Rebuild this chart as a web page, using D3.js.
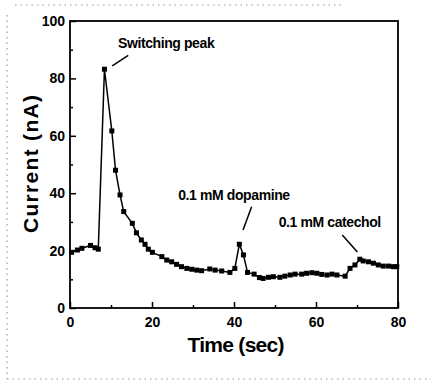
<!DOCTYPE html>
<html>
<head>
<meta charset="utf-8">
<script src="https://cdn.jsdelivr.net/npm/d3@7/dist/d3.min.js"></script>
<style>
  body { margin: 0; background: #fff; }
  svg { display: block; font-family: "Liberation Sans", Arial, sans-serif; }
</style>
</head>
<body>
<div id="chart"></div>
<script>
(function(){
  // time (sec) and current (nA)
  const time = [0.4, 1.8, 2.9, 5.0, 6.1, 6.9, 8.4, 10.2, 11.1, 12.2, 13.1, 15.2, 16.2, 17.4, 18.3, 19.1,
    20.1, 22.4, 23.6, 24.8, 26.0, 27.2, 28.5, 29.7, 30.9, 32.1, 34.1, 35.4, 37.0, 39.0, 40.2, 41.3,
    42.3, 43.3, 44.9, 46.2, 47.1, 48.4, 49.6, 51.2, 52.4, 53.7, 54.9, 56.5, 57.7, 59.0, 60.2, 61.4,
    62.7, 63.9, 65.1, 67.1, 68.3, 69.5, 70.7, 71.5, 72.8, 74.0, 75.2, 76.4, 77.7, 78.9, 79.7];
  const current = [19.4, 20.2, 20.8, 21.8, 21.0, 20.5, 83.2, 61.7, 48.0, 39.4, 33.6, 29.5, 26.2, 23.7, 22.2, 20.5,
    19.4, 17.9, 16.7, 16.1, 15.2, 14.4, 13.8, 13.5, 13.2, 13.0, 13.6, 13.2, 12.9, 12.4, 13.8, 22.2,
    18.5, 12.4, 11.8, 10.6, 10.3, 10.7, 10.9, 10.7, 11.1, 11.5, 11.8, 11.8, 12.1, 12.3, 12.1, 11.7,
    11.5, 11.8, 11.5, 11.1, 13.8, 15.0, 17.0, 16.4, 16.1, 15.6, 15.0, 14.6, 14.6, 14.4, 14.4];

  const xTicks = [0, 20, 40, 60, 80];
  const yTicks = [0, 20, 40, 60, 80, 100];
  const xMinorTicks = [10, 30, 50, 70];
  const yMinorTicks = [10, 30, 50, 70, 90];

  // annotation labels and where their leader lines point
  const notes = [
    { label: 'Switching peak', tx: 11.7, ty: 90.5, from: [14.2, 88], to: [10.3, 84.4] },
    { label: '0.1 mM dopamine', tx: 26.4, ty: 37.6, from: [44.3, 35.3], to: [42.2, 27.2] },
    { label: '0.1 mM catechol', tx: 50.9, ty: 28.2, from: [66.4, 25.4], to: [70.1, 19.5] }
  ];

  const width = 431;
  const height = 382;
  const margin = { top: 21, right: 33, bottom: 74, left: 70 };

  const svg = d3.select('#chart')
    .append('svg')
    .attr('width', width)
    .attr('height', height);

  // faint scanned dotted border
  const dots = svg.append('g')
    .attr('stroke', '#999')
    .attr('stroke-width', 1.2)
    .attr('stroke-dasharray', '1.5,4');
  dots.append('line').attr('x1', 15).attr('y1', 5).attr('x2', 345).attr('y2', 5);
  dots.append('line').attr('x1', 7).attr('y1', 15).attr('x2', 7).attr('y2', 379);
  dots.append('line').attr('x1', 7).attr('y1', 379).attr('x2', 431).attr('y2', 379);

  const x = d3.scaleLinear()
    .domain([0, 80])
    .range([margin.left, width - margin.right]);
  const y = d3.scaleLinear()
    .domain([0, 100])
    .range([height - margin.bottom, margin.top]);

  // frame
  svg.append('rect')
    .attr('x', x(0))
    .attr('y', y(100))
    .attr('width', x(80) - x(0))
    .attr('height', y(0) - y(100))
    .attr('fill', 'none')
    .attr('stroke', '#000')
    .attr('stroke-width', 1.8);

  // inward ticks, labels outside
  function styleAxis(g) {
    g.select('.domain').remove();
    g.selectAll('line').attr('stroke', '#000').attr('stroke-width', 1.5);
    g.selectAll('text')
      .attr('fill', '#000')
      .style('font-size', '14px')
      .style('font-weight', 'bold')
      .style('font-family', '"Liberation Sans", Arial, sans-serif');
  }

  svg.append('g')
    .attr('transform', 'translate(0,' + y(0) + ')')
    .call(d3.axisBottom(x).tickValues(xTicks).tickSizeInner(-6).tickSizeOuter(0).tickPadding(9).tickFormat(d3.format('d')))
    .call(styleAxis);
  svg.append('g')
    .attr('transform', 'translate(0,' + y(0) + ')')
    .call(d3.axisBottom(x).tickValues(xMinorTicks).tickSizeInner(-3).tickSizeOuter(0).tickFormat(''))
    .call(styleAxis);
  svg.append('g')
    .attr('transform', 'translate(' + x(0) + ',0)')
    .call(d3.axisLeft(y).tickValues(yTicks).tickSizeInner(-6).tickSizeOuter(0).tickPadding(5).tickFormat(d3.format('d')))
    .call(styleAxis);
  svg.append('g')
    .attr('transform', 'translate(' + x(0) + ',0)')
    .call(d3.axisLeft(y).tickValues(yMinorTicks).tickSizeInner(-3).tickSizeOuter(0).tickFormat(''))
    .call(styleAxis);

  const points = time.map(function(t, i) { return [t, current[i]]; });

  const line = d3.line()
    .x(function(d) { return x(d[0]); })
    .y(function(d) { return y(d[1]); });

  svg.append('path')
    .datum(points)
    .attr('d', line)
    .attr('fill', 'none')
    .attr('stroke', '#000')
    .attr('stroke-width', 1.5);

  const sq = 5;
  svg.selectAll('.pt')
    .data(points)
    .enter().append('rect')
    .attr('class', 'pt')
    .attr('x', function(d) { return x(d[0]) - sq / 2; })
    .attr('y', function(d) { return y(d[1]) - sq / 2; })
    .attr('width', sq)
    .attr('height', sq)
    .attr('fill', '#000');

  // annotations
  const ann = svg.selectAll('.note')
    .data(notes)
    .enter().append('g')
    .attr('class', 'note');
  ann.append('line')
    .attr('x1', function(d) { return x(d.from[0]); })
    .attr('y1', function(d) { return y(d.from[1]); })
    .attr('x2', function(d) { return x(d.to[0]); })
    .attr('y2', function(d) { return y(d.to[1]); })
    .attr('stroke', '#000')
    .attr('stroke-width', 1.5);
  ann.append('text')
    .attr('x', function(d) { return x(d.tx); })
    .attr('y', function(d) { return y(d.ty); })
    .style('font-size', '14px')
    .style('font-weight', 'bold')
    .style('letter-spacing', '-0.4px')
    .text(function(d) { return d.label; });

  // axis titles
  svg.append('text')
    .attr('x', (x(0) + x(80)) / 2 + 2)
    .attr('y', 352)
    .attr('text-anchor', 'middle')
    .attr('textLength', 97)
    .style('font-size', '21px')
    .style('font-weight', 'bold')
    .text('Time (sec)');

  svg.append('text')
    .attr('transform', 'translate(38,164) rotate(-90)')
    .attr('text-anchor', 'middle')
    .attr('textLength', 138)
    .style('font-size', '21px')
    .style('font-weight', 'bold')
    .text('Current (nA)');
})();
</script>
</body>
</html>
